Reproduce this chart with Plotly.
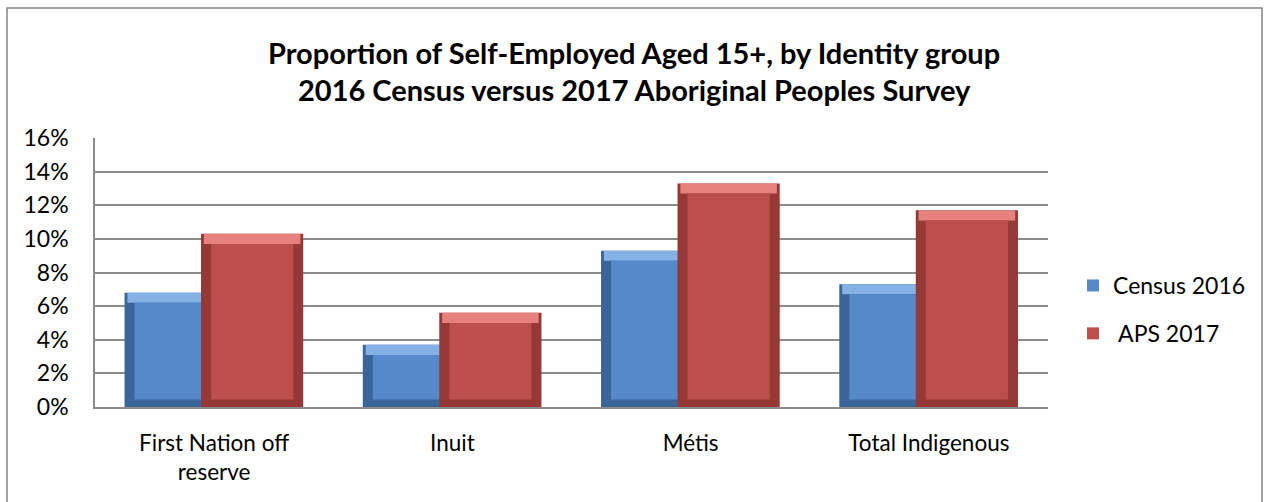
import plotly.graph_objects as go

# ---- data ----
categories = ["First Nation off<br>reserve", "Inuit", "Métis", "Total Indigenous"]
census_2016 = [6.8, 3.7, 9.3, 7.3]
aps_2017 = [10.3, 5.6, 13.3, 11.7]
y_tick_values = [0, 2, 4, 6, 8, 10, 12, 14, 16]
y_tick_labels = ["0%", "2%", "4%", "6%", "8%", "10%", "12%", "14%", "16%"]
title_line1 = "Proportion of Self-Employed Aged 15+, by Identity group"
title_line2 = "2016 Census versus 2017 Aboriginal Peoples Survey"

FONT = "Lato"
W, H = 1271, 502
ML, MR, MT, MB = 95, 223, 138, 95
PW, PH = W - ML - MR, H - MT - MB

fig = go.Figure()

BW = 0.429  # bar width in category units
BEV_Y = 0.6  # bevel thickness in y units
BEV_X = 0.042  # bevel thickness in x units


def add_bevel_bar(values, name, offset, edge, main, light, legend_rank):
    # outer (edge) bar
    fig.add_trace(go.Bar(x=categories, y=values, offset=offset, width=BW,
                         marker=dict(color=edge, line=dict(width=0)),
                         showlegend=False, hoverinfo="skip"))
    # top highlight band
    fig.add_trace(go.Bar(x=categories, y=[BEV_Y] * len(values),
                         base=[v - BEV_Y for v in values],
                         offset=offset + 0.012, width=BW - 0.024,
                         marker=dict(color=light, line=dict(width=0)),
                         showlegend=False, hoverinfo="skip"))
    # centre face
    fig.add_trace(go.Bar(x=categories, y=[v - BEV_Y - 0.45 for v in values],
                         base=[0.45] * len(values),
                         offset=offset + BEV_X, width=BW - 2 * BEV_X,
                         marker=dict(color=main, line=dict(width=0)),
                         name=name, legendgroup=name, legendrank=legend_rank,
                         showlegend=True, hovertemplate="%{y:.1f}%"))


add_bevel_bar(census_2016, "Census 2016", -0.376, "#3A6599", "#5589C9", "#86B1E6", 1)
add_bevel_bar(aps_2017, " APS 2017", -0.055, "#963936", "#BC4E4B", "#E6817D", 2)

fig.update_layout(
    width=W, height=H,
    margin=dict(l=ML, r=MR, t=MT, b=MB),
    barmode="overlay",
    plot_bgcolor="white", paper_bgcolor="white",
    font=dict(family=FONT, size=22, color="#000000"),
    showlegend=True,
    legend=dict(x=(1073 - ML) / PW, xanchor="left",
                y=(407 - 264) / PH, yanchor="top",
                font=dict(family=FONT, size=23, color="#000000"),
                traceorder="grouped", tracegroupgap=15,
                bgcolor="rgba(0,0,0,0)"),
    xaxis=dict(range=[-0.5, 3.5], showgrid=False, showline=True,
               linecolor="#8C8C8C", linewidth=1.5, ticks="",
               tickfont=dict(family=FONT, size=22.5), ticklabelstandoff=15,
               fixedrange=True),
    yaxis=dict(range=[0, 16], tickvals=y_tick_values, ticktext=y_tick_labels,
               showgrid=True, gridcolor="#8C8C8C", gridwidth=1.5,
               showline=True, linecolor="#8C8C8C", linewidth=1.5,
               zeroline=False, ticks="", ticklabelstandoff=20,
               tickfont=dict(family=FONT, size=23), fixedrange=True),
    shapes=[dict(type="rect", xref="paper", yref="paper",
                 x0=(7 - ML) / PW, x1=(1262 - ML) / PW,
                 y0=-0.5, y1=(407 - 8) / PH,
                 line=dict(color="#878787", width=1.5), layer="below")],
    annotations=[
        dict(text="<b>" + title_line1 + "</b>", xref="paper", yref="paper",
             x=(634 - ML) / PW, y=(407 - 52) / PH, xanchor="center", yanchor="middle",
             showarrow=False, font=dict(family=FONT, size=29, color="#000000")),
        dict(text="<b>" + title_line2 + "</b>", xref="paper", yref="paper",
             x=(634 - ML) / PW, y=(407 - 89) / PH, xanchor="center", yanchor="middle",
             showarrow=False, font=dict(family=FONT, size=29, color="#000000")),
    ],
)

fig.write_html("out.html", config={"displayModeBar": False},
               post_script="document.body.style.margin='0';document.body.style.overflow='hidden';")
